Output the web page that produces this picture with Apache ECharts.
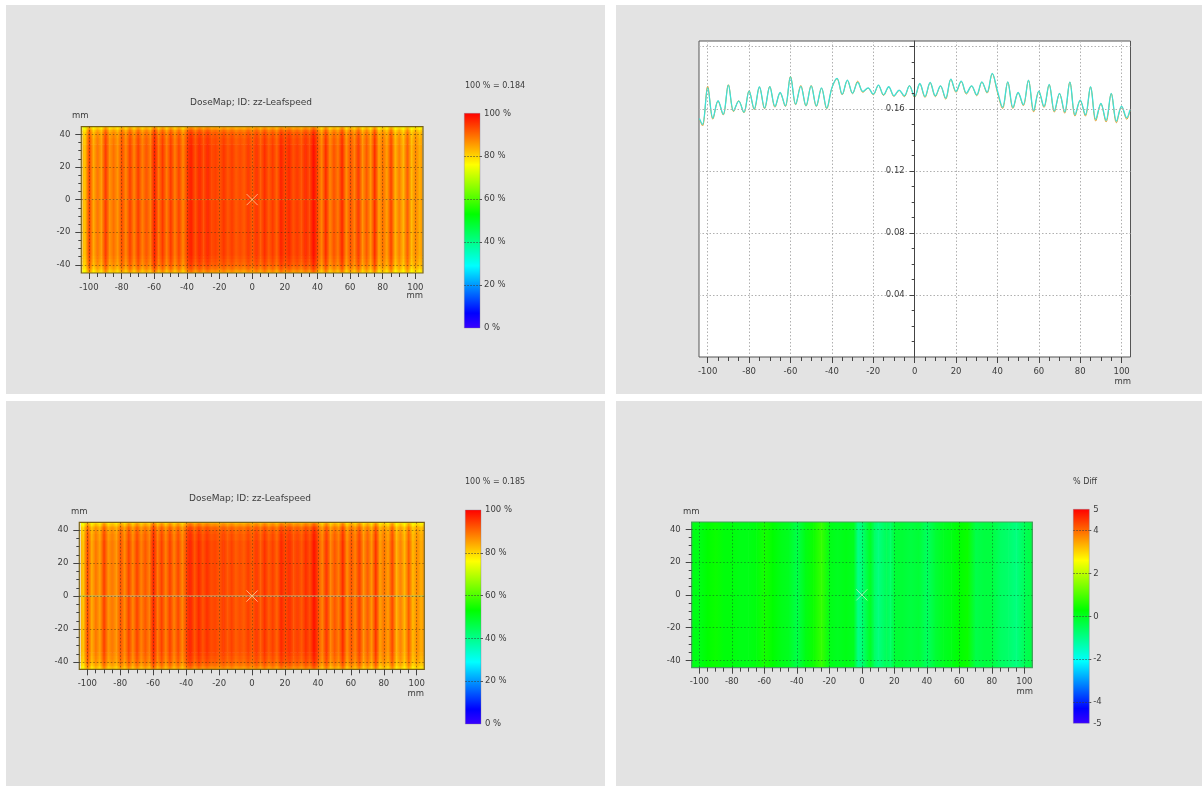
<!DOCTYPE html>
<html><head><meta charset="utf-8">
<style>html,body{margin:0;padding:0;background:#fff}#c{width:1202px;height:786px;filter:blur(.35px)}</style>
<script src="https://cdn.jsdelivr.net/npm/echarts@6/dist/echarts.min.js"></script>
</head><body><div id="c"></div>
<script>
// ---- data ----
const profileX = [-104,-102.5,-100,-97.5,-95,-92.5,-90,-87.5,-85,-82.5,-80,-77.5,-75,-72.5,-70,-67.5,-65,-62.5,-60,-57.5,-55,-52.5,-50,-47.5,-45,-42.5,-40,-37.5,-35,-32.5,-30,-27.5,-25,-22.5,-20,-17.5,-15,-12.5,-10,-7.5,-5,-2.5,0,2.5,5,7.5,10,12.5,15,17.5,20,22.5,25,27.5,30,32.5,35,37.5,40,42.5,45,47.5,50,52.5,55,57.5,60,62.5,65,67.5,70,72.5,75,77.5,80,82.5,85,87.5,90,92.5,95,97.5,100,102.5,104];
const profileCyan = [.1538,.1500,.1735,.1540,.1652,.1565,.1753,.1587,.1650,.1578,.1714,.1600,.1742,.1604,.1742,.1615,.1705,.1619,.1806,.1630,.1745,.1621,.1748,.1619,.1735,.1604,.1735,.1796,.1694,.1785,.1701,.1770,.1712,.1735,.1694,.1753,.1690,.1742,.1684,.1720,.1684,.1748,.1679,.1763,.1679,.1770,.1684,.1748,.1669,.1791,.1712,.1778,.1701,.1748,.1690,.1774,.1707,.1828,.1716,.1610,.1774,.1608,.1705,.1626,.1785,.1590,.1714,.1615,.1757,.1587,.1699,.1580,.1774,.1562,.1656,.1562,.1742,.1532,.1634,.1525,.1699,.1520,.1617,.1542,.1591];
const profileOrange = [.1532,.1490,.1745,.1533,.1650,.1560,.1755,.1582,.1652,.1574,.1716,.1595,.1740,.1600,.1744,.1610,.1703,.1615,.1808,.1626,.1750,.1617,.1750,.1615,.1733,.1600,.1733,.1794,.1690,.1783,.1697,.1778,.1706,.1733,.1690,.1751,.1686,.1740,.1680,.1718,.1678,.1750,.1673,.1761,.1673,.1768,.1678,.1746,.1662,.1789,.1706,.1776,.1695,.1746,.1684,.1772,.1701,.1826,.1705,.1602,.1772,.1602,.1703,.1620,.1783,.1580,.1712,.1609,.1755,.1579,.1697,.1572,.1772,.1553,.1654,.1553,.1740,.1521,.1632,.1515,.1697,.1510,.1615,.1532,.1586];
const diffX = [-105,-100,-95,-90,-85,-80,-75,-70,-65,-60,-55,-50,-45,-40,-35,-30,-25,-20,-15,-10,-5,-2.5,0,5,7.5,10,15,17.5,20,25,30,35,40,45,50,55,60,65,70,75,80,85,90,95,100,105];
const diffValues = [.1,.1,.3,.4,.2,.2,.1,.1,.2,.5,.3,.1,0,-.4,.1,.4,.8,.1,0,.1,0,-1,-.8,0,-.6,-.9,-.5,-.7,-.2,-.2,-.3,-.2,-.6,-.2,0,.1,.3,.4,-.4,-.3,-.3,-.6,-.7,-.9,-.5,-.3];
const rowEdges = [-45,-44,-43,-42,-41,-40,-38,-36,-34,34,38,40,42,43,44,45];
const rowFactors = [.90,.925,.945,.96,.97,.98,.987,.994,1,.992,.985,.975,.955,.93,.905];
const centreLineX = [-105,105];
const centreLineY = [0,0];
const crossArm = [-3.4,3.4];
const majorTicks = [-100,-80,-60,-40,-20,0,20,40,60,80,100];
const minorTicks = [-100,-95,-90,-85,-80,-75,-70,-65,-60,-55,-50,-45,-40,-35,-30,-25,-20,-15,-10,-5,0,5,10,15,20,25,30,35,40,45,50,55,60,65,70,75,80,85,90,95,100];
const yMajorTicks = [-40,-20,0,20,40];
const yMinorTicks = [-40,-35,-30,-25,-20,-15,-10,-5,0,5,10,15,20,25,30,35,40];
const doseLabels = [0,20,40,60,80,100];
const doseTicks = [20,40,60,80];
const diffLabels = [-5,-4,-2,0,2,4,5];
const diffTicks = [-4,-2,0,2,4];
const profileYMajor = [.04,.08,.12,.16,.2];
const profileYLabels = [.04,.08,.12,.16];
const profileYMinor = [.01,.02,.03,.04,.05,.06,.07,.08,.09,.10,.11,.12,.13,.14,.15,.16,.17,.18,.19,.2];
const norm1 = 0.184, norm3 = 0.185;
const mapStops = [0,.07,.29,.53,.76,1];
const mapColours = [[58,0,255],[0,0,255],[0,255,255],[0,255,0],[255,255,0],[255,0,0]];

// ---- helpers ----
function cmap(t){
  t=Math.max(0,Math.min(1,t));
  for(let i=1;i<mapStops.length;i++) if(t<=mapStops[i]){
    const f=(t-mapStops[i-1])/(mapStops[i]-mapStops[i-1]),a=mapColours[i-1],b=mapColours[i];
    return 'rgb('+a.map((v,k)=>Math.round(v+(b[k]-v)*f)).join(',')+')';
  }
  return 'rgb(255,0,0)';
}
const txt='#3c3c3c', FONT='"DejaVu Sans"', AX=8.5;
const option={animation:false,backgroundColor:'#fff',textStyle:{fontFamily:FONT},
  title:[],grid:[],xAxis:[],yAxis:[],series:[],
  graphic:{elements:[]}};
const G=option.graphic.elements;
[[6,5,599,389],[616,5,586,389],[6,401,599,385],[616,401,586,385]].forEach(r=>G.push({type:'rect',z:-5,shape:{x:r[0],y:r[1],width:r[2],height:r[3]},style:{fill:'#e3e3e3'}}));
function label(t,x,y,align,size){G.push({type:'text',z:20,x,y,style:{text:t,fill:txt,font:(size||8.5)+'px '+FONT,textAlign:align||'left',textVerticalAlign:'middle'}});}

function addAxes(gi,xr,yr,splitCol){
  const xi=option.xAxis.length, yi=option.yAxis.length;
  const tick=(v,l)=>({show:true,customValues:v,length:l,lineStyle:{color:'#444',width:1}});
  const split=(s)=>({show:s,lineStyle:{color:splitCol,type:[1.5,2],width:1}});
  option.xAxis.push(
    {gridIndex:gi,type:'value',min:xr[0],max:xr[1],position:'bottom',z:10,axisLine:{show:false,onZero:false},
     axisTick:tick(majorTicks,6),axisLabel:{customValues:majorTicks,color:txt,fontSize:AX,margin:10,fontFamily:FONT},splitLine:split(true)},
    {gridIndex:gi,type:'value',min:xr[0],max:xr[1],position:'bottom',z:10,axisLine:{show:false,onZero:false},
     axisTick:tick(minorTicks,4),axisLabel:{show:false},splitLine:{show:false}});
  option.yAxis.push(
    {gridIndex:gi,type:'value',min:yr[0],max:yr[1],position:'left',z:10,axisLine:{show:false,onZero:false},
     axisTick:tick(yMajorTicks,6),axisLabel:{customValues:yMajorTicks,color:txt,fontSize:AX,margin:11,fontFamily:FONT},splitLine:split(true)},
    {gridIndex:gi,type:'value',min:yr[0],max:yr[1],position:'left',z:10,axisLine:{show:false,onZero:false},
     axisTick:tick(yMinorTicks,3),axisLabel:{show:false},splitLine:{show:false}});
  return {xi,yi};
}
function addMap(box,xr,yr,xs,vals,toT,useRows,frame,crossCol,splitCol){
  const gi=option.grid.length;
  option.grid.push({left:box[0],top:box[1],width:box[2]-box[0],height:box[3]-box[1]});
  const {xi,yi}=addAxes(gi,xr,yr,splitCol);
  const data=[];
  const edges=useRows?rowEdges:[-45,45];
  const facs=useRows?rowFactors:[1];
  for(let j=0;j<facs.length;j++)for(let i=0;i<xs.length-1;i++)
    data.push([xs[i],xs[i+1],edges[j],edges[j+1],vals[i],vals[i+1],facs[j]]);
  option.series.push({type:'custom',coordinateSystem:'cartesian2d',xAxisIndex:xi,yAxisIndex:yi,z:2,clip:true,
    encode:{x:[0,1],y:[2,3]},data,silent:true,
    renderItem(p,api){
      const a=api.coord([api.value(0),api.value(3)]),b=api.coord([api.value(1),api.value(2)]);
      const f=api.value(6);
      return {type:'rect',shape:{x:a[0],y:a[1],width:b[0]-a[0]+.6,height:b[1]-a[1]+.6},
        style:{fill:new echarts.graphic.LinearGradient(0,0,1,0,[{offset:0,color:cmap(toT(api.value(4),f))},{offset:1,color:cmap(toT(api.value(5),f))}])}};
    }});
  option.series.push({type:'custom',coordinateSystem:'cartesian2d',xAxisIndex:xi,yAxisIndex:yi,z:4,clip:false,silent:true,
    encode:{x:[0,1],y:[2,3]},data:[[xr[0],xr[1],yr[0],yr[1]]],
    renderItem(p,api){
      const a=api.coord([api.value(0),api.value(3)]),b=api.coord([api.value(1),api.value(2)]);
      return {type:'rect',shape:{x:a[0],y:a[1],width:b[0]-a[0],height:b[1]-a[1]},style:{fill:'none',stroke:frame,lineWidth:1.2}};
    }});
  option.series.push({type:'custom',coordinateSystem:'cartesian2d',xAxisIndex:xi,yAxisIndex:yi,z:12,silent:true,
    encode:{x:[0,1],y:[2,3]},data:[[crossArm[0],crossArm[1],crossArm[0],crossArm[1]]],
    renderItem(p,api){
      const a=api.coord([api.value(0),api.value(3)]),b=api.coord([api.value(1),api.value(2)]);
      const st={stroke:crossCol,lineWidth:.9,fill:'none'};
      return {type:'group',children:[
        {type:'line',shape:{x1:a[0],y1:a[1],x2:b[0],y2:b[1]},style:st},
        {type:'line',shape:{x1:a[0],y1:b[1],x2:b[0],y2:a[1]},style:st}]};
    }});
  return {xi,yi};
}
function addBar(box,range,ticks,labels,fmt){
  const gi=option.grid.length;
  option.grid.push({left:box[0],top:box[1],width:box[2]-box[0],height:box[3]-box[1]});
  const xi=option.xAxis.length, yi=option.yAxis.length;
  option.xAxis.push({gridIndex:gi,type:'value',min:0,max:1,show:false});
  option.yAxis.push({gridIndex:gi,type:'value',min:range[0],max:range[1],position:'right',z:10,
    axisLine:{show:false,onZero:false},
    axisTick:{show:true,customValues:ticks,length:3,lineStyle:{color:'#555',type:[2,1]}},
    axisLabel:{customValues:labels,formatter:fmt,color:txt,fontSize:AX,margin:4,fontFamily:FONT},
    splitLine:{show:true,lineStyle:{color:'rgba(60,60,60,.7)',type:[1.5,1.5]}}});
  option.series.push({type:'custom',coordinateSystem:'cartesian2d',xAxisIndex:xi,yAxisIndex:yi,z:2,silent:true,
    encode:{x:[0,1],y:[2,3]},data:[[0,1,range[0],range[1]]],
    renderItem(p,api){
      const a=api.coord([api.value(0),api.value(3)]),b=api.coord([api.value(1),api.value(2)]);
      const stops=mapStops.map((s)=>({offset:1-s,color:cmap(s)})).reverse();
      return {type:'rect',shape:{x:a[0],y:a[1],width:b[0]-a[0],height:b[1]-a[1]},
        style:{fill:new echarts.graphic.LinearGradient(0,0,0,1,stops),stroke:'rgba(130,120,140,.6)',lineWidth:.6}};
    }});
}
function centreLine(ax,col){
  option.series.push({type:'line',xAxisIndex:ax.xi,yAxisIndex:ax.yi,z:3,silent:true,symbol:'none',
    data:centreLineX.map((x,i)=>[x,centreLineY[i]]),lineStyle:{color:col,width:1}});
}
const doseT=n=>(v,f)=>v*f/n;
const splitDark='rgba(70,50,20,.5)';

// panel 1
const m1=addMap([81.3,126.7,423,273],[-104.7,104.7],[-45,44.7],profileX,profileOrange,doseT(norm1),true,'#7a6214','rgba(255,225,170,.8)',splitDark);
centreLine(m1,'rgba(225,160,60,.5)');
addBar([464.3,113.3,480,328],[0,100],doseTicks,doseLabels,v=>v+' %');
// panel 3
const m3=addMap([79.3,522.3,424.3,669.3],[-104.9,104.6],[-44.4,44.7],profileX,profileCyan,doseT(norm3),true,'#7a6214','rgba(255,225,170,.8)',splitDark);
centreLine(m3,new echarts.graphic.LinearGradient(0,0,1,0,[{offset:0,color:'#9fd060'},{offset:.12,color:'#c0c090'},{offset:.88,color:'#c0c090'},{offset:1,color:'#9fd060'}]));
addBar([465.3,510,481,724],[0,100],doseTicks,doseLabels,v=>v+' %');
// panel 4
addMap([691.7,522,1032.3,667.7],[-104.7,104.9],[-44.5,44.5],diffX,diffValues,v=>(v+5)/10,false,'#4a9a60','rgba(235,235,200,.75)','rgba(20,90,40,.55)');
addBar([1073.3,509.3,1089.3,723.3],[-5,5],diffTicks,diffLabels,v=>String(v));

// panel 2 profile
(function(){
  const gi=option.grid.length;
  option.grid.push({left:699,top:41,width:431.5,height:316,show:true,borderColor:'#555',borderWidth:1,backgroundColor:'#fff'});
  const xi=option.xAxis.length, yi=option.yAxis.length;
  const xr=[-104.2,104.3], yr=[0,.2037];
  const zeroOffset=-215.7;
  const sp={show:true,lineStyle:{color:'#b0b0b0',type:[1.5,2],width:1}};
  option.xAxis.push(
    {gridIndex:gi,type:'value',min:xr[0],max:xr[1],position:'bottom',axisLine:{show:false,onZero:false},
     axisTick:{customValues:majorTicks,length:6,lineStyle:{color:'#444'}},axisLabel:{customValues:majorTicks,color:txt,fontSize:AX,margin:10,fontFamily:FONT},splitLine:sp},
    {gridIndex:gi,type:'value',min:xr[0],max:xr[1],position:'bottom',axisLine:{show:false,onZero:false},
     axisTick:{customValues:minorTicks,length:4,lineStyle:{color:'#444'}},axisLabel:{show:false},splitLine:{show:false}});
  option.yAxis.push(
    {gridIndex:gi,type:'value',min:yr[0],max:yr[1],position:'left',offset:zeroOffset,z:3,axisLine:{show:true,onZero:false,lineStyle:{color:'#444'}},
     axisTick:{customValues:profileYMajor,length:5,lineStyle:{color:'#444'}},
     axisLabel:{customValues:profileYLabels,formatter:v=>v.toFixed(2),color:txt,fontSize:AX,margin:10,fontFamily:FONT},splitLine:sp},
    {gridIndex:gi,type:'value',min:yr[0],max:yr[1],position:'left',offset:zeroOffset,z:3,axisLine:{show:false,onZero:false},
     axisTick:{customValues:profileYMinor,length:3,lineStyle:{color:'#444'}},axisLabel:{show:false},splitLine:{show:false}});
  const line=(vals,col,w)=>({type:'line',xAxisIndex:xi,yAxisIndex:yi,symbol:'none',smooth:.35,silent:true,z:2,
    data:profileX.map((x,i)=>[x,vals[i]]),lineStyle:{color:col,width:w}});
  option.series.push(line(profileOrange,'#e0a030',1),line(profileCyan,'#3fe0d8',1.3));
})();

// titles & units
const titleStyle={fontSize:9,fontWeight:'normal',color:txt,fontFamily:FONT};
option.title.push(
  {text:'DoseMap; ID: zz-Leafspeed',left:185,top:93,padding:5,textStyle:titleStyle},
  {text:'DoseMap; ID: zz-Leafspeed',left:184,top:489,padding:5,textStyle:titleStyle});
label('100 % = 0.184',465,86,'left',8);
label('100 % = 0.185',465,482,'left',8);
label('% Diff',1073,482,'left',8);
label('mm',72,116); label('mm',71,512); label('mm',683,512);
label('mm',423,296,'right'); label('mm',424,694,'right'); label('mm',1033,692,'right'); label('mm',1131,382,'right');

echarts.init(document.getElementById('c'),null,{renderer:'canvas'}).setOption(option);
</script></body></html>
